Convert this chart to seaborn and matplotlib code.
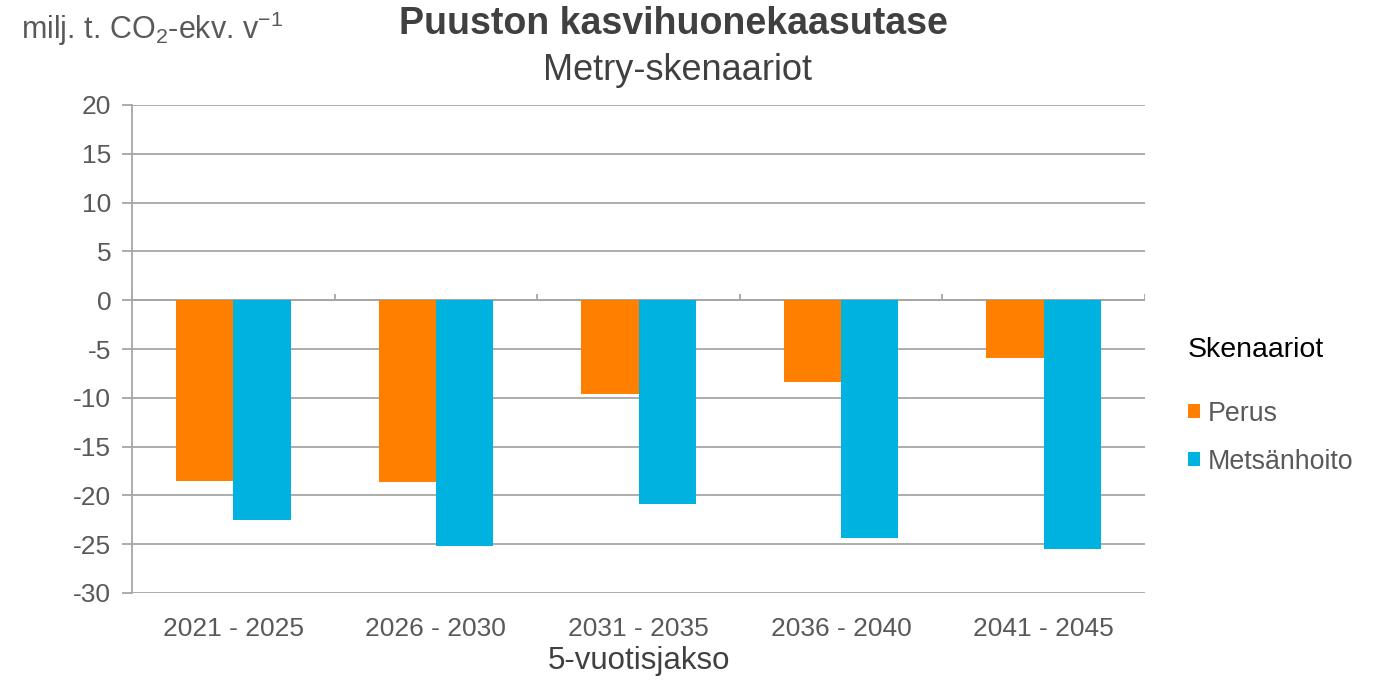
import matplotlib
matplotlib.use("Agg")
import matplotlib.pyplot as plt
import seaborn as sns
import pandas as pd
from matplotlib.patches import Patch

periods = ["2021 - 2025", "2026 - 2030", "2031 - 2035", "2036 - 2040", "2041 - 2045"]
perus = [-18.5, -18.6, -9.6, -8.4, -5.9]
metsanhoito = [-22.5, -25.2, -20.9, -24.4, -25.5]
series_names = ["Perus", "Metsänhoito"]
colors = {"Perus": "#FF8000", "Metsänhoito": "#00B2DF"}
yticks = [-30, -25, -20, -15, -10, -5, 0, 5, 10, 15, 20]

df = pd.DataFrame({
    "Jakso": periods * 2,
    "Skenaario": [series_names[0]] * len(periods) + [series_names[1]] * len(periods),
    "Arvo": perus + metsanhoito,
})

sns.set_theme(style="white")
plt.rcParams["font.family"] = ["Liberation Sans", "DejaVu Sans"]
plt.rcParams["mathtext.fontset"] = "custom"
plt.rcParams["mathtext.rm"] = "Liberation Sans"
plt.rcParams["mathtext.it"] = "Liberation Sans"

fig = plt.figure(figsize=(13.75, 6.83), dpi=100)
ax = fig.add_axes([132 / 1375, 1 - 593 / 683, (1145 - 132) / 1375, (593 - 105) / 683])

sns.barplot(data=df, x="Jakso", y="Arvo", hue="Skenaario", palette=colors,
            width=0.565, ax=ax, saturation=1, legend=False, linewidth=0)

grid_c = "#A6A6A6"
ax.set_ylim(-30, 20)
ax.set_xlim(-0.5, len(periods) - 0.5)
ax.set_yticks(yticks)
ax.set_yticklabels([str(v) for v in yticks])
ax.yaxis.grid(True, color=grid_c, linewidth=1.3)
ax.set_axisbelow(True)
for s in ["top", "right", "bottom"]:
    ax.spines[s].set_visible(False)
ax.spines["left"].set_color(grid_c)
ax.spines["left"].set_linewidth(1.3)
ax.tick_params(axis="y", left=True, length=7, width=1.3, color=grid_c,
               labelsize=19, labelcolor="#595959", pad=8)
ax.tick_params(axis="x", bottom=False, labelsize=19, labelcolor="#595959", pad=11)
ax.set_xlabel("5-vuotisjakso", fontsize=22.5, color="#404040", labelpad=4)
ax.set_ylabel("")

# zero axis with category-boundary tick marks
ax.axhline(0, color=grid_c, linewidth=1.3, zorder=0.5)
bounds = [i + 0.5 for i in range(-1, len(periods))]
ax.vlines(bounds, 0, 0.6, color=grid_c, linewidth=1.3, zorder=0.5)

fig.text(673 / 1375, 1 - 24 / 683, "Puuston kasvihuonekaasutase", ha="center", va="center",
         fontsize=27, fontweight="bold", color="#404040")
fig.text(677 / 1375, 1 - 70 / 683, "Metry-skenaariot", ha="center", va="center",
         fontsize=26, color="#404040")
fig.text(21 / 1375, 1 - 29 / 683, r"milj. t. CO$_2$-ekv. v$^{-1}$", ha="left", va="center",
         fontsize=22, color="#595959")

handles = [Patch(facecolor=colors[n], edgecolor="none") for n in series_names]
leg = fig.legend(handles, series_names, loc="upper left",
                 bbox_to_anchor=(1164 / 1375, 1 - 313 / 683), frameon=False,
                 title="Skenaariot", title_fontsize=20.5, fontsize=19.3,
                 handlelength=0.45, handleheight=0.45, handletextpad=0.3,
                 labelspacing=0.82, alignment="left")
leg.get_title().set_color("#000000")
for t in leg.get_texts():
    t.set_color("#595959")
leg._legend_box.sep = 27

fig.savefig("out.png", dpi=100)
